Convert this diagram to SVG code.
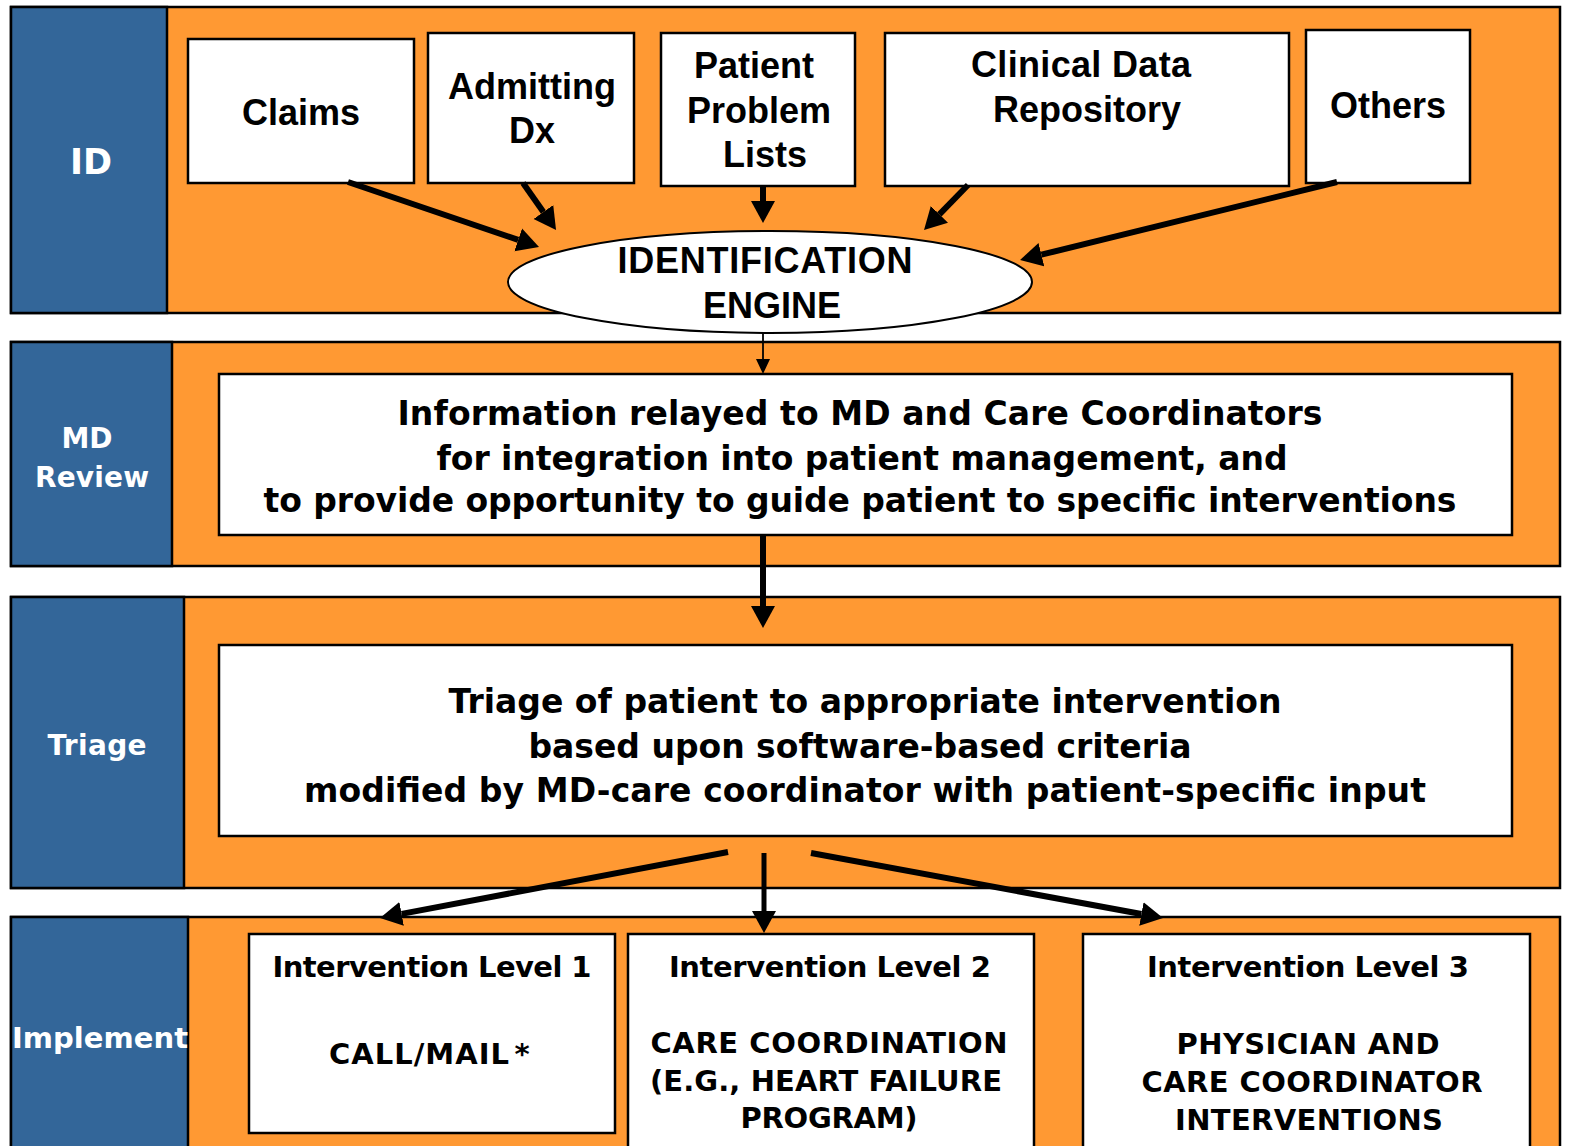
<svg xmlns="http://www.w3.org/2000/svg" width="1572" height="1146" viewBox="0 0 1572 1146">
  <style>
    .band { fill: #FF9933; stroke: #000; stroke-width: 2.5; }
    .lane { fill: #336699; stroke: #000; stroke-width: 2.5; }
    .box { fill: #fff; stroke: #000; stroke-width: 2.5; }
    .lbl { font-family: "DejaVu Sans", Verdana, sans-serif; font-weight: bold; fill: #fff; text-anchor: middle; }
    .src { font-family: "Liberation Sans", Arial, sans-serif; font-weight: bold; font-size: 36px; fill: #000; text-anchor: middle; }
    .body { font-family: "DejaVu Sans", Verdana, sans-serif; font-weight: bold; font-size: 33px; fill: #000; text-anchor: middle; }
    .lvl { font-family: "DejaVu Sans", Verdana, sans-serif; font-weight: bold; font-size: 29px; fill: #000; text-anchor: middle; }
    .arrow { stroke: #000; fill: none; }
  </style>
  <defs>
    <marker id="head" markerUnits="userSpaceOnUse" viewBox="0 -13 23 26" refX="0" refY="0" markerWidth="23" markerHeight="26" orient="auto">
      <path d="M0,-12 L22,0 L0,12 z" fill="#000"/>
    </marker>
    <marker id="headSmall" markerUnits="userSpaceOnUse" viewBox="0 -8 16 16" refX="0" refY="0" markerWidth="16" markerHeight="16" orient="auto">
      <path d="M0,-7 L15,0 L0,7 z" fill="#000"/>
    </marker>
  </defs>

  <!-- Lane: ID -->
  <g id="lane-id">
    <rect class="band" x="11" y="7" width="1549" height="306"/>
    <rect class="lane" x="11" y="7" width="156" height="306"/>
    <text class="lbl" x="91" y="174" font-size="35" textLength="42" lengthAdjust="spacing">ID</text>
  </g>

  <!-- Lane: MD Review -->
  <g id="lane-md">
    <rect class="band" x="11" y="342" width="1549" height="224"/>
    <rect class="lane" x="11" y="342" width="161" height="224"/>
    <text class="lbl" x="87" y="448" font-size="28" textLength="51" lengthAdjust="spacing">MD</text>
    <text class="lbl" x="92" y="487" font-size="28" textLength="114" lengthAdjust="spacing">Review</text>
  </g>

  <!-- Lane: Triage -->
  <g id="lane-triage">
    <rect class="band" x="11" y="597" width="1549" height="291"/>
    <rect class="lane" x="11" y="597" width="173" height="291"/>
    <text class="lbl" x="97" y="755" font-size="28" textLength="99" lengthAdjust="spacing">Triage</text>
  </g>

  <!-- Lane: Implement -->
  <g id="lane-implement">
    <rect class="band" x="11" y="917" width="1549" height="245"/>
    <rect class="lane" x="11" y="917" width="177" height="245"/>
    <text class="lbl" x="100" y="1048" font-size="29" textLength="176" lengthAdjust="spacing">Implement</text>
  </g>

  <!-- Data sources -->
  <g id="src-claims">
    <rect class="box" x="188" y="39" width="226" height="144"/>
    <text class="src" x="301" y="125">Claims</text>
  </g>
  <g id="src-admitting">
    <rect class="box" x="428" y="33" width="206" height="150"/>
    <text class="src" x="532" y="99">Admitting</text>
    <text class="src" x="532" y="143">Dx</text>
  </g>
  <g id="src-problems">
    <rect class="box" x="661" y="33" width="194" height="153"/>
    <text class="src" x="754" y="78">Patient</text>
    <text class="src" x="759" y="123">Problem</text>
    <text class="src" x="765" y="167">Lists</text>
  </g>
  <g id="src-cdr">
    <rect class="box" x="885" y="33" width="404" height="153"/>
    <text class="src" x="1081" y="77" textLength="220" lengthAdjust="spacing">Clinical Data</text>
    <text class="src" x="1087" y="122">Repository</text>
  </g>
  <g id="src-others">
    <rect class="box" x="1306" y="30" width="164" height="153"/>
    <text class="src" x="1388" y="118">Others</text>
  </g>

  <!-- Identification engine -->
  <g id="engine">
    <ellipse cx="770" cy="282" rx="262" ry="51" fill="#fff" stroke="#000" stroke-width="2"/>
    <text class="src" x="765" y="273" textLength="295" lengthAdjust="spacing">IDENTIFICATION</text>
    <text class="src" x="772" y="318">ENGINE</text>
  </g>

  <!-- MD review step -->
  <g id="md-review">
    <rect class="box" x="219" y="374" width="1293" height="161"/>
    <text class="body" x="860" y="425" textLength="925" lengthAdjust="spacing">Information relayed to MD and Care Coordinators</text>
    <text class="body" x="862" y="470" textLength="851" lengthAdjust="spacing">for integration into patient management, and</text>
    <text class="body" x="860" y="512" textLength="1193" lengthAdjust="spacing">to provide opportunity to guide patient to specific interventions</text>
  </g>

  <!-- Triage step -->
  <g id="triage">
    <rect class="box" x="219" y="645" width="1293" height="191"/>
    <text class="body" x="865" y="713" textLength="833" lengthAdjust="spacing">Triage of patient to appropriate intervention</text>
    <text class="body" x="860" y="758" textLength="663" lengthAdjust="spacing">based upon software-based criteria</text>
    <text class="body" x="865" y="802" textLength="1122" lengthAdjust="spacing">modified by MD-care coordinator with patient-specific input</text>
  </g>

  <!-- Intervention levels -->
  <g id="level-1">
    <rect class="box" x="249" y="934" width="366" height="199"/>
    <text class="lvl" x="432" y="977" textLength="319" lengthAdjust="spacing">Intervention Level 1</text>
    <text class="lvl" x="419" y="1064" textLength="180" lengthAdjust="spacing">CALL/MAIL</text>
    <text class="lvl" x="522" y="1064" font-size="34">*</text>
  </g>
  <g id="level-2">
    <rect class="box" x="628" y="934" width="406" height="230"/>
    <text class="lvl" x="830" y="977" textLength="322" lengthAdjust="spacing">Intervention Level 2</text>
    <text class="lvl" x="829" y="1053" textLength="357" lengthAdjust="spacing">CARE COORDINATION</text>
    <text class="lvl" x="826" y="1091" textLength="352" lengthAdjust="spacing">(E.G., HEART FAILURE</text>
    <text class="lvl" x="829" y="1128" textLength="177" lengthAdjust="spacing">PROGRAM)</text>
  </g>
  <g id="level-3">
    <rect class="box" x="1083" y="934" width="447" height="230"/>
    <text class="lvl" x="1308" y="977" textLength="322" lengthAdjust="spacing">Intervention Level 3</text>
    <text class="lvl" x="1308" y="1054" textLength="263" lengthAdjust="spacing">PHYSICIAN AND</text>
    <text class="lvl" x="1312" y="1092" textLength="341" lengthAdjust="spacing">CARE COORDINATOR</text>
    <text class="lvl" x="1309" y="1130" textLength="268" lengthAdjust="spacing">INTERVENTIONS</text>
  </g>

  <!-- Connectors -->
  <g id="connectors">
    <line class="arrow" x1="348" y1="182" x2="518.2" y2="239.9" stroke-width="6" marker-end="url(#head)"/>
    <line class="arrow" x1="523" y1="183" x2="543.4" y2="212" stroke-width="6" marker-end="url(#head)"/>
    <line class="arrow" x1="763" y1="186" x2="763" y2="201" stroke-width="6" marker-end="url(#head)"/>
    <line class="arrow" x1="968" y1="185" x2="939.4" y2="214.3" stroke-width="6" marker-end="url(#head)"/>
    <line class="arrow" x1="1337" y1="182" x2="1041.4" y2="254.7" stroke-width="6" marker-end="url(#head)"/>
    <line class="arrow" x1="763" y1="333" x2="763" y2="359" stroke-width="1.8" marker-end="url(#headSmall)"/>
    <line class="arrow" x1="763" y1="535" x2="763" y2="606" stroke-width="6" marker-end="url(#head)"/>
    <line class="arrow" x1="728" y1="852" x2="401.6" y2="913.9" stroke-width="6" marker-end="url(#head)"/>
    <line class="arrow" x1="764" y1="853" x2="764" y2="911" stroke-width="5" marker-end="url(#head)"/>
    <line class="arrow" x1="811" y1="853" x2="1141.4" y2="914" stroke-width="6" marker-end="url(#head)"/>
  </g>
</svg>
